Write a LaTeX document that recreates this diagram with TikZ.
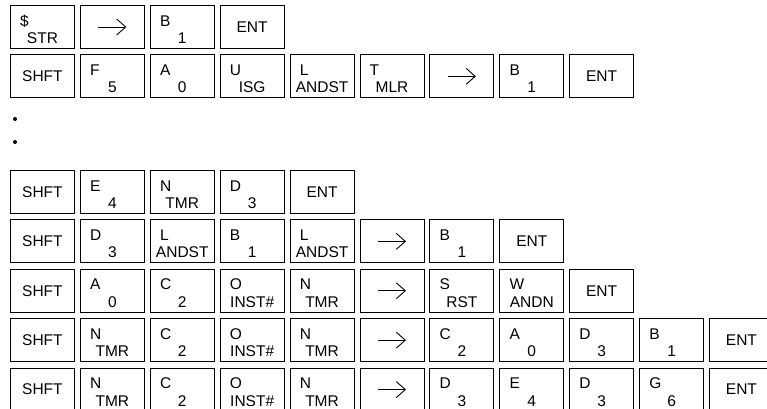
\documentclass[tikz,border=0pt]{standalone}
\usepackage{fontspec}
\setmainfont{Liberation Sans}
\usetikzlibrary{arrows.meta, positioning}

\begin{document}
\begin{tikzpicture}[
  node distance=5pt,
  key/.style={draw, line width=0.9pt, minimum width=64pt,
              minimum height=43pt, inner sep=0pt,
              font=\fontsize{15.5}{17}\selectfont},
  ktop/.style={anchor=base west, inner sep=0pt, xshift=10pt, yshift=-21pt,
               font=\fontsize{15.5}{17}\selectfont},
  kbot/.style={anchor=base, inner sep=0pt, yshift=-38.5pt,
               font=\fontsize{15.5}{17}\selectfont},
  dual/.style 2 args={key, label={[ktop]north west:#1},
                      label={[kbot]north:#2}},
  arrkey/.style={key, path picture={
      \draw[line width=0.9pt, -{Straight Barb[length=9pt, width=16pt]}]
        ([xshift=-14pt]path picture bounding box.center)
        -- ([xshift=14pt]path picture bounding box.center);}},
  dot/.style={circle, fill, inner sep=0pt, minimum size=4pt}
]
  \useasboundingbox (0,0) rectangle (767pt,-408pt);

  % first group
  \node[dual={\$}{STR}, anchor=north west] (k11) at (10pt,-5pt) {};
  \node[arrkey, right=of k11] (k12) {};
  \node[dual={B}{1}, right=of k12] (k13) {};
  \node[key, right=of k13] (k14) {ENT};

  \node[key, below=5.5pt of k11] (k21) {SHFT};
  \node[dual={F}{5}, right=of k21] (k22) {};
  \node[dual={A}{0}, right=of k22] (k23) {};
  \node[dual={U}{ISG}, right=of k23] (k24) {};
  \node[dual={L}{ANDST}, right=of k24] (k25) {};
  \node[dual={T}{MLR}, right=of k25] (k26) {};
  \node[arrkey, right=of k26] (k27) {};
  \node[dual={B}{1}, right=of k27] (k28) {};
  \node[key, right=of k28] (k29) {ENT};

  \node[dot] (d1) at (15pt,-119pt) {};
  \node[dot] (d2) at (15pt,-142pt) {};

  % second group
  \node[key, anchor=north west] (k31) at (10pt,-170pt) {SHFT};
  \node[dual={E}{4}, right=of k31] (k32) {};
  \node[dual={N}{TMR}, right=of k32] (k33) {};
  \node[dual={D}{3}, right=of k33] (k34) {};
  \node[key, right=of k34] (k35) {ENT};

  \node[key, below=5.5pt of k31] (k41) {SHFT};
  \node[dual={D}{3}, right=of k41] (k42) {};
  \node[dual={L}{ANDST}, right=of k42] (k43) {};
  \node[dual={B}{1}, right=of k43] (k44) {};
  \node[dual={L}{ANDST}, right=of k44] (k45) {};
  \node[arrkey, right=of k45] (k46) {};
  \node[dual={B}{1}, right=of k46] (k47) {};
  \node[key, right=of k47] (k48) {ENT};

  \node[key, below=5.5pt of k41] (k51) {SHFT};
  \node[dual={A}{0}, right=of k51] (k52) {};
  \node[dual={C}{2}, right=of k52] (k53) {};
  \node[dual={O}{INST\#}, right=of k53] (k54) {};
  \node[dual={N}{TMR}, right=of k54] (k55) {};
  \node[arrkey, right=of k55] (k56) {};
  \node[dual={S}{RST}, right=of k56] (k57) {};
  \node[dual={W}{ANDN}, right=of k57] (k58) {};
  \node[key, right=of k58] (k59) {ENT};

  \node[key, below=5.5pt of k51] (k61) {SHFT};
  \node[dual={N}{TMR}, right=of k61] (k62) {};
  \node[dual={C}{2}, right=of k62] (k63) {};
  \node[dual={O}{INST\#}, right=of k63] (k64) {};
  \node[dual={N}{TMR}, right=of k64] (k65) {};
  \node[arrkey, right=of k65] (k66) {};
  \node[dual={C}{2}, right=of k66] (k67) {};
  \node[dual={A}{0}, right=of k67] (k68) {};
  \node[dual={D}{3}, right=of k68] (k69) {};
  \node[dual={B}{1}, right=of k69] (k6a) {};
  \node[key, right=of k6a] (k6b) {ENT};

  \node[key, below=5.5pt of k61] (k71) {SHFT};
  \node[dual={N}{TMR}, right=of k71] (k72) {};
  \node[dual={C}{2}, right=of k72] (k73) {};
  \node[dual={O}{INST\#}, right=of k73] (k74) {};
  \node[dual={N}{TMR}, right=of k74] (k75) {};
  \node[arrkey, right=of k75] (k76) {};
  \node[dual={D}{3}, right=of k76] (k77) {};
  \node[dual={E}{4}, right=of k77] (k78) {};
  \node[dual={D}{3}, right=of k78] (k79) {};
  \node[dual={G}{6}, right=of k79] (k7a) {};
  \node[key, right=of k7a] (k7b) {ENT};
\end{tikzpicture}
\end{document}
